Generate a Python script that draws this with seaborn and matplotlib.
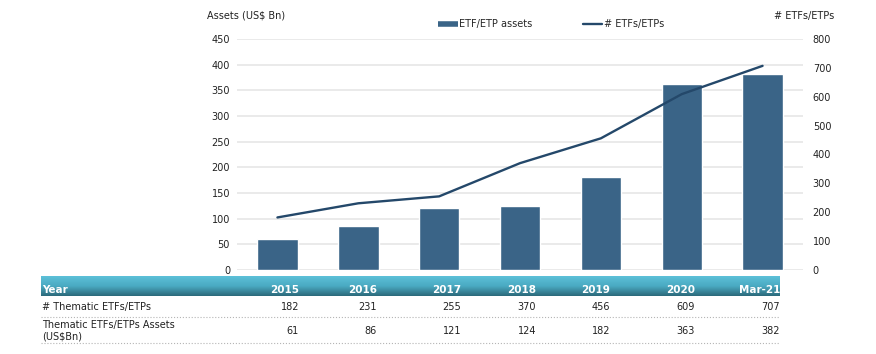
import numpy as np
import pandas as pd
import matplotlib
matplotlib.use("Agg")
import matplotlib.pyplot as plt
import seaborn as sns
from matplotlib.lines import Line2D
from matplotlib.colors import LinearSegmentedColormap

# data
years = ["2015", "2016", "2017", "2018", "2019", "2020", "Mar-21"]
etf_counts = [182, 231, 255, 370, 456, 609, 707]
etf_assets = [61, 86, 121, 124, 182, 363, 382]
row_labels = ["# Thematic ETFs/ETPs", "Thematic ETFs/ETPs Assets\n(US$Bn)"]

bar_color = "#3a6487"
line_color = "#24486a"

sns.set_style("white")
plt.rcParams["font.family"] = ["DejaVu Sans"]
plt.rcParams["axes.unicode_minus"] = False

W, H = 876, 354
fx = lambda px: px / W
fy = lambda py: 1 - py / H

df = pd.DataFrame({"Year": years, "Assets": etf_assets, "Count": etf_counts})

fig = plt.figure(figsize=(W / 100, H / 100), dpi=100)
ax = fig.add_axes([fx(237), fy(270), fx(803) - fx(237), fy(39) - fy(270)])

sns.barplot(data=df, x="Year", y="Assets", color=bar_color, saturation=1,
            width=0.5, ax=ax)
ax.set_xlim(-0.5, len(years) - 0.5)
ax.set_ylim(0, 450)
ax.set_yticks(range(0, 451, 50))
ax.yaxis.grid(True, color="#e6e6e6", lw=1.2)
ax.set_axisbelow(True)
ax.set_xlabel("")
ax.set_ylabel("")
ax.tick_params(axis="x", labelbottom=False, length=0)
ax.tick_params(axis="y", length=0, pad=5, labelsize=7, labelcolor="#222222")
for s in ax.spines.values():
    s.set_visible(False)

ax2 = ax.twinx()
sns.lineplot(x=np.arange(len(years)), y=df["Count"], color=line_color, lw=1.7,
             ax=ax2)
ax2.set_ylim(0, 800)
ax2.set_yticks(range(0, 801, 100))
ax2.set_ylabel("")
ax2.grid(False)
ax2.tick_params(axis="y", length=0, pad=7, labelsize=7, labelcolor="#222222")
for s in ax2.spines.values():
    s.set_visible(False)

# axis titles
fig.text(fx(207), fy(16), "Assets (US$ Bn)", ha="left", va="center", fontsize=7, color="#222222")
fig.text(fx(834), fy(16), "# ETFs/ETPs", ha="right", va="center", fontsize=7, color="#222222")

# legend
handles = [Line2D([0], [0], color=bar_color, lw=4, solid_capstyle="butt"),
           Line2D([0], [0], color=line_color, lw=1.7)]
fig.legend(handles, ["ETF/ETP assets", "# ETFs/ETPs"], loc="center",
           bbox_to_anchor=(fx(551), fy(24)), ncol=2, frameon=False, fontsize=7,
           handlelength=2.0, handletextpad=0.15, columnspacing=5.2)

# table under the chart
tab_left, tab_right = 41, 780
col_right = [299, 377, 461, 536, 610, 695, 780]

hax = fig.add_axes([fx(tab_left), fy(296), fx(tab_right) - fx(tab_left), fy(276) - fy(296)])
cmap = LinearSegmentedColormap.from_list("hdr", ["#5cc0d8", "#4aaac2", "#2c6a7b"])
grad = np.linspace(0, 1, 50).reshape(-1, 1)
hax.imshow(grad, aspect="auto", cmap=cmap)
hax.axis("off")

fig.text(fx(42), fy(290), "Year", ha="left", va="center", fontsize=7.5,
         fontweight="bold", color="white")
for x, yr in zip(col_right, years):
    fig.text(fx(x), fy(290), yr, ha="right", va="center", fontsize=7.5,
             fontweight="bold", color="white")

fig.text(fx(42), fy(307), row_labels[0], ha="left", va="center", fontsize=7, color="#222222")
for x, v in zip(col_right, etf_counts):
    fig.text(fx(x), fy(307), str(v), ha="right", va="center", fontsize=7, color="#222222")

fig.text(fx(42), fy(331), row_labels[1], ha="left", va="center", fontsize=7,
         color="#222222", linespacing=1.15)
for x, v in zip(col_right, etf_assets):
    fig.text(fx(x), fy(331), str(v), ha="right", va="center", fontsize=7, color="#222222")

for py in [317, 343]:
    fig.add_artist(Line2D([fx(tab_left), fx(tab_right)], [fy(py), fy(py)],
                          ls=":", lw=0.8, color="#b5b5b5"))

fig.savefig("out.png", dpi=100)
